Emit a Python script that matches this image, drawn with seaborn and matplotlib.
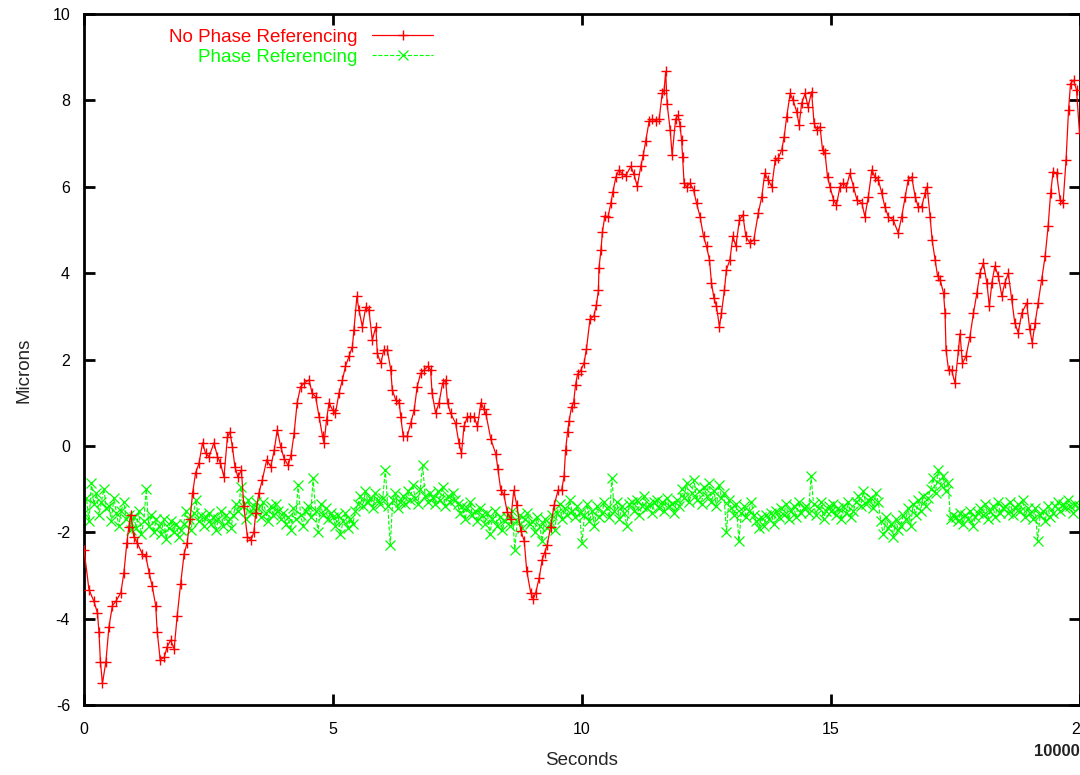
import matplotlib
matplotlib.use("Agg")
import matplotlib.pyplot as plt
import seaborn as sns

# ---- data ----
red_t = [0.00, 0.10, 0.20, 0.27, 0.30, 0.33, 0.37, 0.44, 0.50, 0.57, 0.64, 0.74, 0.80, 0.86, 0.90, 0.94,
         1.00, 1.07, 1.17, 1.24, 1.31, 1.37, 1.44, 1.47, 1.53, 1.61, 1.67, 1.74, 1.81, 1.87, 1.94,
         2.01, 2.07, 2.13, 2.18, 2.24, 2.31, 2.38, 2.44, 2.51, 2.61, 2.68, 2.74, 2.81, 2.88, 2.93, 2.98,
         3.03, 3.09, 3.16, 3.21, 3.28, 3.35, 3.41, 3.45, 3.51, 3.58, 3.67, 3.75, 3.82, 3.88, 3.95,
         4.02, 4.10, 4.16, 4.22, 4.28, 4.35, 4.42, 4.52, 4.58, 4.65, 4.72, 4.79, 4.82, 4.87, 4.92, 4.99,
         5.05, 5.12, 5.19, 5.25, 5.32, 5.39, 5.42, 5.48, 5.52, 5.59, 5.66, 5.72, 5.79, 5.86, 5.89, 5.96,
         6.02, 6.09, 6.16, 6.19, 6.26, 6.33, 6.36, 6.41, 6.49, 6.56, 6.63, 6.69, 6.76, 6.83, 6.91, 6.96, 6.99,
         7.06, 7.13, 7.20, 7.26, 7.30, 7.36, 7.46, 7.53, 7.58, 7.63, 7.70, 7.76, 7.83, 7.90, 7.97,
         8.03, 8.07, 8.17, 8.27, 8.31, 8.37, 8.43, 8.50, 8.57, 8.63, 8.69, 8.77, 8.84, 8.89, 8.97,
         9.02, 9.07, 9.14, 9.20, 9.25, 9.30, 9.37, 9.44, 9.52, 9.59, 9.64, 9.67, 9.71, 9.74, 9.79, 9.83, 9.87, 9.91, 9.97,
         10.04, 10.09, 10.16, 10.24, 10.29, 10.33, 10.34, 10.38, 10.41, 10.46, 10.52, 10.58, 10.62, 10.68, 10.74,
         10.81, 10.88, 10.98, 11.04, 11.11, 11.18, 11.23, 11.28, 11.35, 11.41, 11.48, 11.55, 11.61, 11.65, 11.68,
         11.71, 11.77, 11.81, 11.88, 11.93, 11.97,
         12.00, 12.02, 12.05, 12.10, 12.17, 12.24, 12.30, 12.37, 12.44, 12.50, 12.56, 12.60, 12.65, 12.70, 12.76,
         12.80, 12.86, 12.90, 12.97, 13.03, 13.09, 13.16, 13.23, 13.29, 13.37, 13.45, 13.54, 13.61, 13.67, 13.74,
         13.81, 13.88, 13.94, 14.01, 14.06, 14.11, 14.18, 14.24, 14.31, 14.36, 14.41, 14.48, 14.54, 14.61, 14.66,
         14.71, 14.78, 14.83, 14.88, 14.93, 14.98, 15.05, 15.11, 15.18, 15.25, 15.31, 15.38, 15.45, 15.52, 15.62,
         15.68, 15.75, 15.82, 15.88, 15.95, 16.02, 16.08, 16.15, 16.25, 16.35, 16.42, 16.49, 16.55, 16.62, 16.69,
         16.75, 16.82, 16.89, 16.93, 16.99, 17.03, 17.09, 17.14, 17.19, 17.26, 17.29, 17.31, 17.36, 17.42, 17.49,
         17.56, 17.59, 17.64, 17.71, 17.79, 17.86, 17.93, 17.99, 18.06, 18.13, 18.18, 18.23, 18.29, 18.36, 18.43,
         18.49, 18.56, 18.63, 18.69, 18.76, 18.83, 18.93, 18.99, 19.04, 19.10, 19.16, 19.23, 19.30, 19.36, 19.41,
         19.46, 19.53, 19.60, 19.66, 19.72, 19.77, 19.81, 19.87, 19.93, 19.99]
red_v = [-2.40, -3.33, -3.60, -3.87, -4.30, -5.00, -5.50, -5.00, -4.20, -3.70, -3.60, -3.40, -2.95, -2.25, -1.87, -1.60,
         -2.10, -2.25, -2.50, -2.55, -2.95, -3.25, -3.70, -4.30, -4.95, -4.90, -4.65, -4.50, -4.70, -3.95, -3.20,
         -2.50, -2.25, -1.70, -1.10, -0.63, -0.40, 0.07, -0.17, -0.25, 0.07, -0.25, -0.40, -0.72, 0.20, 0.32, -0.02,
         -0.48, -0.72, -0.56, -1.40, -2.10, -2.18, -2.00, -1.55, -1.10, -0.79, -0.32, -0.48, -0.10, 0.37, -0.02,
         -0.30, -0.45, -0.20, 0.30, 1.00, 1.37, 1.45, 1.53, 1.22, 1.14, 0.68, 0.22, 0.06, 0.60, 1.00, 0.83,
         0.76, 1.22, 1.53, 1.84, 2.07, 2.30, 2.68, 3.46, 3.15, 2.76, 3.22, 3.15, 2.45, 2.76, 2.14, 1.91,
         2.22, 2.22, 1.76, 1.30, 1.06, 1.00, 0.68, 0.22, 0.22, 0.53, 0.83, 1.37, 1.68, 1.76, 1.84, 1.76, 1.22,
         0.76, 1.00, 1.45, 1.53, 1.00, 0.76, 0.53, 0.06, -0.17, 0.45, 0.68, 0.68, 0.68, 0.45, 1.00,
         0.85, 0.74, 0.15, -0.19, -0.53, -1.03, -1.12, -1.54, -1.70, -1.03, -1.37, -1.96, -2.20, -2.89, -3.40,
         -3.55, -3.40, -3.06, -2.64, -2.47, -2.30, -1.87, -1.37, -1.03, -1.03, -0.70, -0.10, 0.32, 0.57, 0.90, 0.99, 1.41, 1.66, 1.74,
         1.91, 2.25, 2.93, 3.01, 3.27, 3.60, 4.11, 4.53, 4.95, 5.33, 5.29, 5.62, 5.88, 6.22, 6.39,
         6.30, 6.26, 6.47, 6.30, 6.01, 6.47, 6.73, 7.06, 7.53, 7.57, 7.53, 7.57, 8.16, 8.24, 8.67,
         7.91, 7.32, 6.73, 7.57, 7.66, 7.40,
         7.08, 6.70, 6.08, 6.00, 6.08, 5.93, 5.62, 5.31, 4.85, 4.62, 4.31, 3.77, 3.42, 3.23, 2.76,
         3.07, 3.61, 4.08, 4.31, 4.85, 4.62, 5.23, 5.35, 4.85, 4.70, 4.77, 5.39, 5.77, 6.31, 6.16,
         6.00, 6.62, 6.66, 6.85, 7.16, 7.62, 8.16, 8.00, 7.74, 7.43, 7.93, 8.16, 7.85, 8.20, 7.47,
         7.31, 7.39, 6.85, 6.78, 6.23, 6.00, 5.70, 5.58, 6.00, 6.08, 6.00, 6.31, 6.00, 5.70, 5.62,
         5.31, 5.77, 6.39, 6.23, 6.16, 5.85, 5.54, 5.31, 5.23, 4.93, 5.31, 5.77, 6.16, 6.23, 5.77,
         5.54, 5.54, 5.85, 6.00, 5.31, 4.77, 4.31, 3.93, 3.85, 3.54, 3.07, 2.22, 1.76, 1.76, 1.45,
         2.22, 2.60, 1.91, 2.07, 2.53, 3.07, 3.54, 4.00, 4.23, 3.77, 3.23, 3.77, 4.16, 3.93, 3.47,
         3.77, 4.00, 3.39, 2.85, 2.62, 3.07, 3.31, 2.70, 2.39, 2.85, 3.31, 3.85, 4.39, 5.08, 5.85,
         6.35, 6.31, 5.70, 5.62, 6.62, 7.78, 8.39, 8.47, 8.24, 7.24]

green_v = [
    -1.55, -1.20, -1.75, -0.85, -1.35, -1.10, -1.60, -1.30, -1.00, -1.45,
    -1.40, -1.75, -1.20, -1.55, -1.85, -1.50, -1.30, -1.70, -1.60, -1.95,
    -1.65, -1.90, -1.50, -2.05, -1.75, -1.00, -1.85, -1.60, -2.00, -1.70,
    -1.85, -2.05, -1.70, -2.15, -1.90, -1.75, -2.00, -1.80, -2.10, -1.95,
    -1.80, -1.50, -1.70, -1.95, -1.55, -1.25, -1.75, -1.60, -1.85, -1.65,
    -1.55, -1.80, -1.65, -1.95, -1.70, -1.50, -1.85, -1.60, -1.75, -1.90,
    -1.60, -1.35, -1.50, -0.95, -1.40, -1.70, -1.25, -1.55, -1.45, -1.30,
    -1.45, -1.65, -1.30, -1.55, -1.75, -1.40, -1.60, -1.35, -1.50, -1.70,
    -1.55, -1.80, -1.65, -1.95, -1.45, -1.70, -0.90, -1.60, -1.85, -1.50,
    -1.40, -1.65, -0.75, -1.50, -2.00, -1.35, -1.60, -1.45, -1.70, -1.55,
    -1.65, -1.85, -1.60, -2.05, -1.75, -1.55, -1.90, -1.70, -1.80, -1.50,
    -1.35, -1.15, -1.40, -1.05, -1.30, -1.20, -1.45, -1.10, -1.25, -1.35,
    -1.20, -0.55, -1.40, -2.30, -1.25, -1.10, -1.45, -1.30, -1.15, -1.35,
    -1.05, -1.25, -0.90, -1.20, -1.35, -1.00, -0.45, -1.15, -1.30, -1.10,
    -1.20, -1.35, -1.05, -1.25, -0.95, -1.40, -1.15, -1.30, -1.10, -1.25,
    -1.35, -1.55, -1.40, -1.70, -1.45, -1.30, -1.60, -1.50, -1.75, -1.45,
    -1.60, -1.80, -1.55, -2.05, -1.70, -1.50, -1.85, -1.65, -1.95, -1.75,
    -1.65, -1.85, -1.50, -2.40, -1.75, -1.60, -1.90, -1.70, -1.55, -1.80,
    -1.75, -2.00, -1.65, -1.85, -2.20, -1.70, -1.90, -1.80, -1.60, -1.95,
    -1.55, -1.35, -1.70, -1.45, -1.60, -1.25, -1.50, -1.65, -1.40, -1.55,
    -2.25, -1.60, -1.35, -1.75, -1.50, -1.85, -1.40, -1.65, -1.55, -1.30,
    -1.45, -1.65, -0.75, -1.50, -1.30, -1.70, -1.40, -1.55, -1.85, -1.35,
    -1.30, -1.50, -1.25, -1.60, -1.40, -1.15, -1.45, -1.35, -1.55, -1.30,
    -1.25, -1.45, -1.30, -1.50, -1.20, -1.40, -1.35, -1.55, -1.25, -1.40,
    -1.00, -1.20, -0.85, -1.30, -1.10, -0.80, -1.25, -1.05, -1.35, -0.95,
    -1.15, -0.85, -1.30, -1.05, -1.40, -0.90, -1.20, -1.10, -2.00, -1.25,
    -1.45, -1.60, -1.35, -2.20, -1.55, -1.40, -1.65, -1.50, -1.30, -1.60,
    -1.75, -1.90, -1.65, -1.85, -1.60, -1.70, -1.55, -1.80, -1.50, -1.65,
    -1.45, -1.60, -1.35, -1.70, -1.50, -1.40, -1.65, -1.30, -1.55, -1.45,
    -1.40, -1.55, -0.70, -1.35, -1.60, -1.45, -1.30, -1.70, -1.50, -1.40,
    -1.50, -1.35, -1.60, -1.45, -1.70, -1.40, -1.55, -1.30, -1.65, -1.50,
    -1.30, -1.15, -1.40, -1.05, -1.35, -1.25, -1.20, -1.45, -1.10, -1.30,
    -1.75, -2.05, -1.65, -1.90, -1.80, -2.10, -1.70, -1.95, -1.85, -1.60,
    -1.70, -1.45, -1.85, -1.35, -1.60, -1.25, -1.50, -1.15, -1.40, -1.20,
    -1.00, -0.75, -1.10, -0.55, -0.90, -0.70, -1.05, -0.85, -1.70, -1.60,
    -1.65, -1.75, -1.55, -1.80, -1.60, -1.70, -1.50, -1.85, -1.65, -1.55,
    -1.45, -1.60, -1.35, -1.70, -1.50, -1.40, -1.65, -1.30, -1.55, -1.45,
    -1.40, -1.55, -1.30, -1.60, -1.45, -1.35, -1.50, -1.25, -1.65, -1.45,
    -1.55, -1.70, -1.45, -2.20, -1.60, -1.50, -1.75, -1.40, -1.65, -1.55,
    -1.40, -1.30, -1.50, -1.35, -1.45, -1.25, -1.40, -1.55, -1.35, -1.45,
    -1.40]
green_t = [round(0.05 * i, 2) for i in range(len(green_v))]  # sample times (seconds)

x_ticks = [0, 5, 10, 15, 20]
y_ticks = [-6, -4, -2, 0, 2, 4, 6, 8, 10]
label_red = "No Phase Referencing"
label_green = "Phase Referencing"

# ---- style ----
sns.set_style("ticks")
plt.rcParams['font.family'] = ['Liberation Sans', 'DejaVu Sans']
plt.rcParams['axes.unicode_minus'] = False

RED = "#ff0000"
GREEN = "#00ff00"

fig = plt.figure(figsize=(10.8, 7.75), dpi=100)
ax = fig.add_axes([84 / 1080, 70 / 775, 996 / 1080, 691 / 775])

sns.lineplot(x=green_t, y=green_v, ax=ax, color=GREEN, linewidth=0.8, linestyle='--',
             marker='x', markersize=7, markeredgewidth=0.9, markeredgecolor=GREEN,
             sort=False, estimator=None, label=label_green, zorder=2)
sns.lineplot(x=red_t, y=red_v, ax=ax, color=RED, linewidth=0.9,
             marker='+', markersize=7.5, markeredgewidth=1.0, markeredgecolor=RED,
             sort=False, estimator=None, label=label_red, zorder=3)

ax.set_xlim(0, 20)
ax.set_ylim(-6, 10)
ax.set_xticks(x_ticks)
ax.set_yticks(y_ticks)
ax.tick_params(direction='in', length=8, width=2, top=True, right=True,
               labelsize=11.5, colors='black')
ax.tick_params(axis='x', pad=12)
ax.tick_params(axis='y', pad=10)
for s in ax.spines.values():
    s.set_linewidth(2)
    s.set_color('black')
    s.set_visible(True)

ax.set_xlabel("Seconds", fontsize=13.5)
ax.xaxis.set_label_coords(0.5, -0.068)
ax.set_ylabel("Microns", fontsize=13.5)
ax.yaxis.set_label_coords(-0.052, 0.485)

handles, labels = ax.get_legend_handles_labels()
order = [labels.index(label_red), labels.index(label_green)]
leg = ax.legend([handles[i] for i in order], [labels[i] for i in order],
                loc='upper right', bbox_to_anchor=(0.3504, 0.979), frameon=False,
                markerfirst=False, handlelength=3.25, handletextpad=0.8,
                labelspacing=0.15, borderpad=0, borderaxespad=0, fontsize=13.5,
                labelcolor='linecolor', numpoints=1)

fig.text(1034 / 1080, 1 - 751 / 775, "10000", fontsize=12, fontweight='bold',
         ha='left', va='center', color='#222222')

fig.savefig("out.png", dpi=100)
